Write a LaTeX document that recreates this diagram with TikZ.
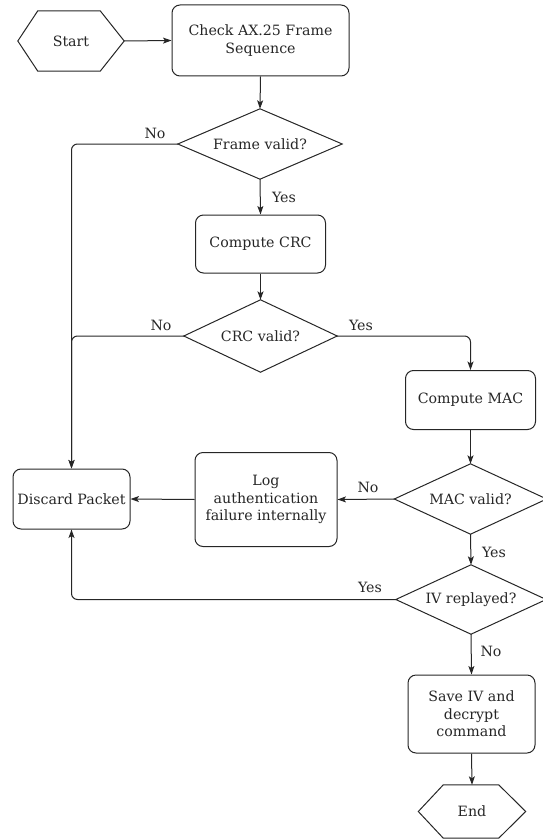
\documentclass[tikz,border=0pt]{standalone}
\usepackage{fontspec}
\setmainfont{DejaVu Serif}
\usetikzlibrary{arrows.meta,calc}
\definecolor{ink}{HTML}{262626}
\tikzset{
  every node/.style={text=ink, font=\fontsize{14.2}{17.5}\selectfont},
  box/.style={draw=ink, line width=1pt, rounded corners=8pt, align=center, inner sep=0pt},
  ghost/.style={inner sep=0pt, align=center},
  edge/.style={draw=ink, line width=1pt, rounded corners=6pt, -{Stealth[length=8.5pt,width=6pt,inset=2pt]}},
  shapeline/.style={draw=ink, line width=1pt, line join=miter},
  lbl/.style={inner sep=0pt}
}
\begin{document}
\begin{tikzpicture}[x=1pt,y=-1pt]
\useasboundingbox (0,0) rectangle (543,840);

% terminals (hexagons) and decisions (diamonds) are drawn around plain nodes
\node[ghost, minimum width=106pt, minimum height=60pt] (start) at (71,41) {Start};
\node[box, minimum width=177pt, minimum height=71pt] (check) at (260.5,40.5) {Check AX.25 Frame\\Sequence};
\node[ghost, minimum width=164pt, minimum height=70pt] (fv) at (260,144) {Frame valid?};
\node[box, minimum width=130pt, minimum height=58pt] (crc) at (260.5,244) {Compute CRC};
\node[ghost, minimum width=153pt, minimum height=72pt] (cv) at (260.5,336) {CRC valid?};
\node[box, minimum width=130pt, minimum height=59pt] (mac) at (470.5,400) {Compute MAC};
\node[ghost, minimum width=152pt, minimum height=70pt] (mv) at (470.5,499) {MAC valid?};
\node[box, minimum width=142pt, minimum height=94pt] (log) at (266,499.5) {Log\\authentication\\failure internally};
\node[box, minimum width=117pt, minimum height=60pt] (discard) at (71.5,499) {Discard Packet};
\node[ghost, minimum width=150pt, minimum height=69pt] (iv) at (471,599.5) {IV replayed?};
\node[box, minimum width=127pt, minimum height=78pt] (save) at (471.5,714) {Save IV and\\decrypt\\command};
\node[ghost, minimum width=107pt, minimum height=53pt] (end) at (472,811.5) {End};

% hexagon outlines
\draw[shapeline] (start.west) -- ($(start.north west)+(20,0)$) -- ($(start.north east)+(-24,0)$)
  -- (start.east) -- ($(start.south east)+(-24,0)$) -- ($(start.south west)+(20,0)$) -- cycle;
\draw[shapeline] (end.west) -- ($(end.north west)+(25,0)$) -- ($(end.north east)+(-27,0)$)
  -- (end.east) -- ($(end.south east)+(-27,0)$) -- ($(end.south west)+(25,0)$) -- cycle;

% diamond outlines
\foreach \d in {fv,cv,mv,iv}
  \draw[shapeline] (\d.north) -- (\d.east) -- (\d.south) -- (\d.west) -- cycle;

% connectors
\draw[edge] (start.east) -- (check.west);
\draw[edge] (check.south) -- (fv.north);
\draw[edge] (fv.south) -- (crc.north);
\draw[edge] (crc.south) -- (cv.north);
\draw[edge] (fv.west) -| (discard.north);
\draw[edge] (cv.west) -| (discard.north);
\draw[edge] (cv.east) -| (mac.north);
\draw[edge] (mac.south) -- (mv.north);
\draw[edge] (mv.west) -- (log.east);
\draw[edge] (log.west) -- (discard.east);
\draw[edge] (mv.south) -- (iv.north);
\draw[edge] (iv.west) -| (discard.south);
\draw[edge] (iv.south) -- (save.north);
\draw[edge] (save.south) -- (end.north);

% branch labels
\node[lbl] (l1) at (155,133) {No};
\node[lbl] (l2) at (284,197) {Yes};
\node[lbl] (l3) at (161,325) {No};
\node[lbl] (l4) at (361,325) {Yes};
\node[lbl] (l5) at (368,487) {No};
\node[lbl] (l6) at (494,552) {Yes};
\node[lbl] (l7) at (370,587) {Yes};
\node[lbl] (l8) at (491,651) {No};
\end{tikzpicture}
\end{document}
